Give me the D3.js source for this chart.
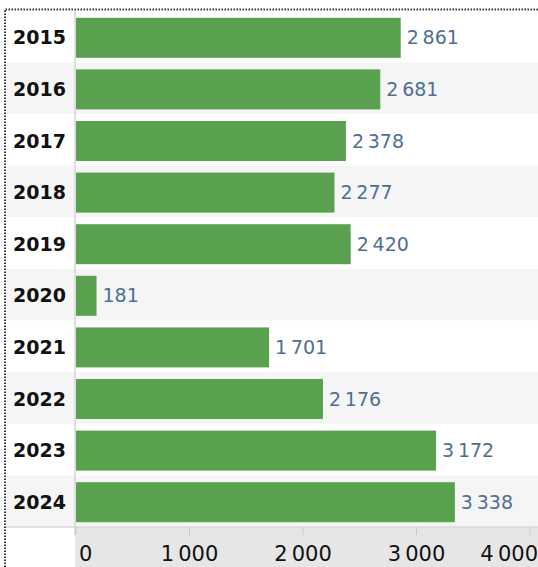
<!DOCTYPE html>
<html>
<head>
<meta charset="utf-8">
<script src="https://cdn.jsdelivr.net/npm/d3@7"></script>
<style>
  body { margin: 0; background: #fff; }
  svg { display: block; font-family: "DejaVu Sans", sans-serif; }
</style>
</head>
<body>
<div class="chart"></div>
<script>
const YEARS = ['2015', '2016', '2017', '2018', '2019', '2020', '2021', '2022', '2023', '2024'];
const VALUES = [2861, 2681, 2378, 2277, 2420, 181, 1701, 2176, 3172, 3338];
const TICKS = [0, 1000, 2000, 3000, 4000];

var W = 538, H = 567;
var plotLeft = 76, plotTop = 11, rowsBottom = 527;

// thousands with a narrow space
var fmt = d3.formatLocale({decimal: ',', thousands: '\u202f', grouping: [3], currency: ['', '']}).format(',d');

var svg = d3.select('.chart').append('svg')
  .attr('width', W).attr('height', H);

var x = d3.scaleLinear().domain([0, 4000]).range([plotLeft, 530]);
var y = d3.scaleBand().domain(YEARS).range([plotTop, rowsBottom]);

var data = YEARS.map((yr, i) => ({year: yr, value: VALUES[i]}));

// row bands
svg.selectAll('rect.row')
  .data(data)
  .enter().append('rect')
  .attr('class', 'row')
  .attr('x', 6).attr('width', W - 6)
  .attr('y', d => y(d.year)).attr('height', y.bandwidth())
  .attr('fill', (d, i) => i % 2 ? '#f5f5f5' : '#ffffff');

// axis area
svg.append('rect')
  .attr('x', plotLeft - 1).attr('y', rowsBottom)
  .attr('width', W - plotLeft + 1).attr('height', H - rowsBottom)
  .attr('fill', '#e6e6e6');

// bars
var barH = 40;
svg.selectAll('rect.bar')
  .data(data)
  .enter().append('rect')
  .attr('class', 'bar')
  .attr('x', x(0))
  .attr('y', d => y(d.year) + (y.bandwidth() - barH) / 2 + 1)
  .attr('width', d => x(d.value) - x(0))
  .attr('height', barH)
  .attr('fill', '#59a14f');

// value labels
svg.selectAll('text.val')
  .data(data)
  .enter().append('text')
  .attr('class', 'val')
  .attr('x', d => x(d.value) + 6)
  .attr('y', d => y(d.year) + y.bandwidth() / 2 + 1)
  .attr('dy', '0.35em')
  .attr('font-size', 19)
  .attr('fill', '#4e6f92')
  .text(d => fmt(d.value));

// year labels
svg.selectAll('text.yr')
  .data(data)
  .enter().append('text')
  .attr('class', 'yr')
  .attr('x', 66)
  .attr('y', d => y(d.year) + y.bandwidth() / 2 + 1)
  .attr('dy', '0.35em')
  .attr('text-anchor', 'end')
  .attr('font-size', 19)
  .attr('font-weight', 'bold')
  .attr('fill', '#111')
  .text(d => d.year);

// divider + axis line
svg.append('line')
  .attr('x1', plotLeft - 1).attr('x2', plotLeft - 1)
  .attr('y1', plotTop).attr('y2', rowsBottom + 8)
  .attr('stroke', '#d4d4d4').attr('stroke-width', 1.5);
svg.append('line')
  .attr('x1', 6).attr('x2', W)
  .attr('y1', rowsBottom).attr('y2', rowsBottom)
  .attr('stroke', '#d9d9d9').attr('stroke-width', 1.5);

// ticks
svg.selectAll('line.tick')
  .data(TICKS)
  .enter().append('line')
  .attr('class', 'tick')
  .attr('x1', d => x(d)).attr('x2', d => x(d))
  .attr('y1', rowsBottom).attr('y2', rowsBottom + 8)
  .attr('stroke', '#c8c8c8');

svg.selectAll('text.tl')
  .data(TICKS)
  .enter().append('text')
  .attr('class', 'tl')
  .attr('x', (d, i) => i == 0 ? x(d) + 3 : (i == TICKS.length - 1 ? W : x(d)))
  .attr('y', 561)
  .attr('text-anchor', (d, i) => i == 0 ? 'start' : (i == TICKS.length - 1 ? 'end' : 'middle'))
  .attr('font-size', 21)
  .attr('fill', '#111')
  .text(d => fmt(d));

// dotted border
svg.append('path')
  .attr('d', 'M5,' + H + 'V9.5H' + W)
  .attr('fill', 'none')
  .attr('stroke', '#333')
  .attr('stroke-width', 2)
  .attr('stroke-dasharray', '1.5 1.5');
</script>
</body>
</html>
